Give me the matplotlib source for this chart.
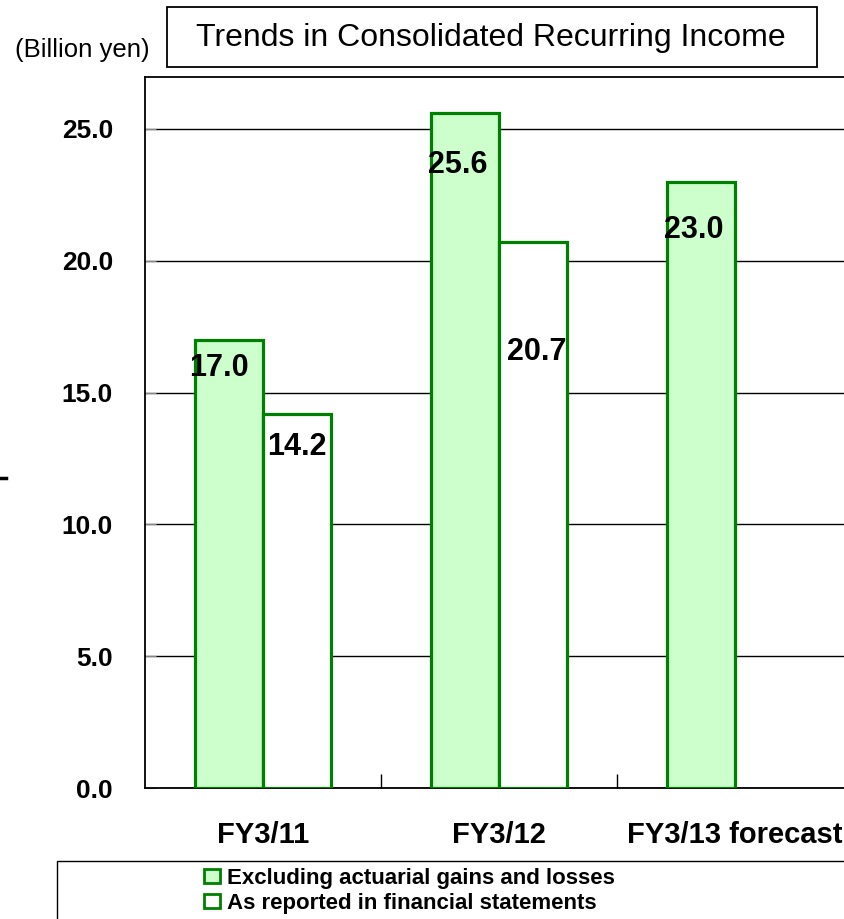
import matplotlib
matplotlib.use("Agg")
import matplotlib.pyplot as plt
from matplotlib.patches import Rectangle
from matplotlib.lines import Line2D
import numpy as np

plt.rcParams['font.family'] = ['Liberation Sans', 'DejaVu Sans']

categories = ["FY3/11", "FY3/12", "FY3/13 forecast"]
excluding = [17.0, 25.6, 23.0]
reported = [14.2, 20.7, None]
series_names = ["Excluding actuarial gains and losses", "As reported in financial statements"]
title = "Trends in Consolidated Recurring Income"
unit = "(Billion yen)"
yticks = [0.0, 5.0, 10.0, 15.0, 20.0, 25.0]

# label placement offsets (data units below bar top) and x shifts (bar widths)
exc_label_drop = [1.05, 1.95, 1.83]
exc_label_dx = [-0.15, -0.1, -0.1]
rep_label_drop = [1.25, 4.15, None]
rep_label_dx = [0.0, 0.06, 0.0]

W, H = 845, 919
fig = plt.figure(figsize=(W / 100, H / 100), dpi=100)
ax = fig.add_axes([145 / W, 1 - 788 / H, (853 - 145) / W, (788 - 77) / H])

green_edge = "#008000"
green_fill = "#CCFFCC"
bw = 0.288
x = np.arange(len(categories))

for i, v in enumerate(excluding):
    ax.bar(x[i] - bw / 2, v, width=bw, color=green_fill, edgecolor=green_edge, linewidth=2.3, zorder=3)
    ax.text(x[i] - bw / 2 + exc_label_dx[i] * bw, v - exc_label_drop[i], f"{v:.1f}",
            ha="center", va="center", fontsize=22, fontweight="bold", zorder=5)
for i, v in enumerate(reported):
    if v is None:
        continue
    ax.bar(x[i] + bw / 2, v, width=bw, color="white", edgecolor=green_edge, linewidth=2.3, zorder=3)
    ax.text(x[i] + bw / 2 + rep_label_dx[i] * bw, v - rep_label_drop[i], f"{v:.1f}",
            ha="center", va="center", fontsize=22, fontweight="bold", zorder=5)

ax.set_xlim(-0.5, 2.5)
ax.set_ylim(0, 26.97)
ax.set_yticks(yticks)
ax.set_yticklabels([f"{t:.1f}" for t in yticks], fontsize=19, fontweight="bold")
ax.tick_params(axis="y", direction="in", length=8, color="#888888", pad=23)
ax.set_xticks(x)
ax.set_xticklabels(categories, fontsize=21, fontweight="bold")
ax.tick_params(axis="x", which="major", length=0, pad=24)
ax.set_xticks([0.5, 1.5], minor=True)
ax.tick_params(axis="x", which="minor", direction="in", length=10, width=1, color="black")
ax.grid(axis="y", color="black", linewidth=1, zorder=1)
ax.set_axisbelow(True)
for s in ax.spines.values():
    s.set_linewidth(1.3)
    s.set_color("black")

# title box
fig.add_artist(Rectangle((167 / W, 1 - 67 / H), (817 - 167) / W, 60 / H, transform=fig.transFigure,
                         facecolor="white", edgecolor="black", linewidth=1.3))
fig.text(491 / W, 1 - 38 / H, title, ha="center", va="center", fontsize=23)
fig.text(82 / W, 1 - 50 / H, unit, ha="center", va="center", fontsize=18.5)

# stray dash at left
fig.add_artist(Line2D([0, 6 / W], [1 - 478 / H, 1 - 478 / H], transform=fig.transFigure,
                      color="black", linewidth=2.5))

# legend box
fig.add_artist(Rectangle((57 / W, 1 - 930 / H), (860 - 57) / W, (930 - 861) / H, transform=fig.transFigure,
                         facecolor="white", edgecolor="black", linewidth=1.0))
legend_fills = [green_fill, "white"]
legend_baselines = [884, 909]
for name, fc, yb in zip(series_names, legend_fills, legend_baselines):
    fig.add_artist(Rectangle((204 / W, 1 - (yb - 1) / H), 16 / W, 14 / H, transform=fig.transFigure,
                             facecolor=fc, edgecolor=green_edge, linewidth=2))
    fig.text(227 / W, 1 - yb / H, name, ha="left", va="baseline", fontsize=16, fontweight="bold")

fig.savefig("out.png", dpi=100)
